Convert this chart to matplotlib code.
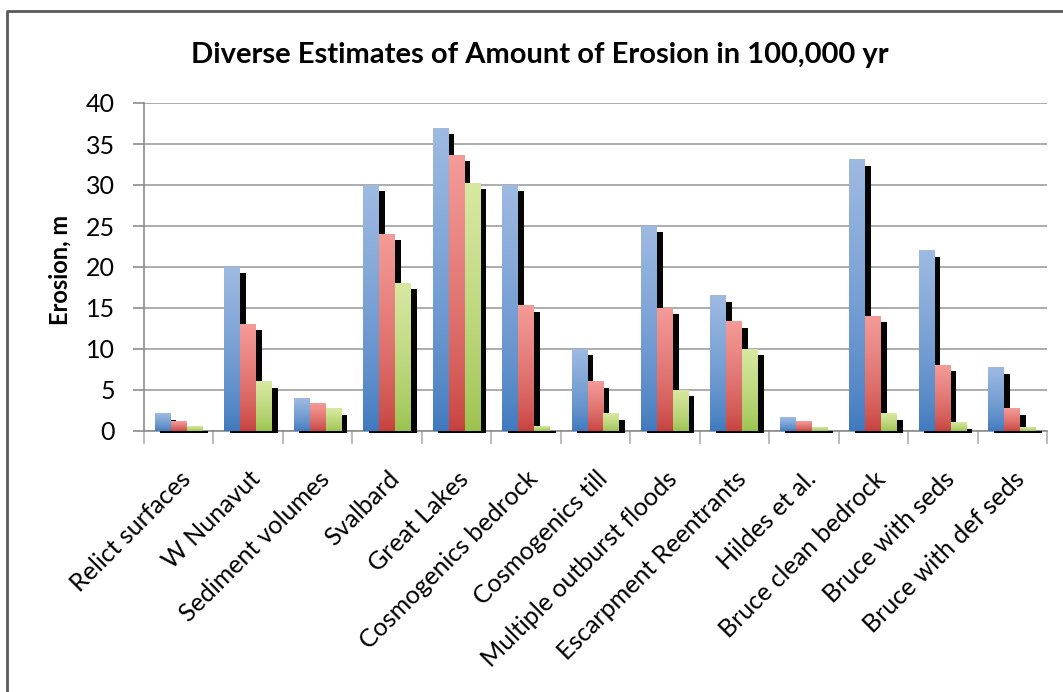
import numpy as np
import matplotlib
matplotlib.use("Agg")
import matplotlib.pyplot as plt
from matplotlib.colors import to_rgb
from matplotlib.lines import Line2D

# Data (metres of erosion in 100,000 yr)
categories = [
    "Relict surfaces", "W Nunavut", "Sediment volumes", "Svalbard",
    "Great Lakes", "Cosmogenics bedrock", "Cosmogenics till",
    "Multiple outburst floods", "Escarpment Reentrants", "Hildes et al.",
    "Bruce clean bedrock", "Bruce with seds", "Bruce with def seds",
]
series_blue = [2.1, 20.0, 4.0, 30.0, 36.9, 30.0, 10.0, 25.0, 16.5, 1.7, 33.1, 22.0, 7.7]
series_red = [1.2, 13.0, 3.3, 24.0, 33.6, 15.3, 6.0, 15.0, 13.3, 1.1, 14.0, 8.0, 2.7]
series_green = [0.5, 6.0, 2.7, 18.0, 30.2, 0.5, 2.1, 5.0, 10.0, 0.4, 2.1, 1.0, 0.4]
y_ticks = [0, 5, 10, 15, 20, 25, 30, 35, 40]

# (top colour, bottom colour) for each series gradient
palettes = [
    ("#9ebae2", "#3c77bd"),
    ("#f49b98", "#c53f3b"),
    ("#d8e8a1", "#99c14c"),
]

FONT = "Lato"
W, H = 1063, 692
fig = plt.figure(figsize=(W / 100, H / 100), dpi=100)
ax = fig.add_axes([144 / W, 1 - 431 / H, (1047 - 144) / W, (431 - 103) / H])

bar_w = 0.23
shadow_dx = 0.08
shadow_dy = 0.73
x = np.arange(len(categories))
all_series = [series_blue, series_red, series_green]

# shadows first, behind all bars
for k, vals in enumerate(all_series):
    for xi, v in zip(x, vals):
        left = xi + (k - 1) * bar_w - bar_w / 2 + shadow_dx
        top = max(v - shadow_dy, 0.05)
        ax.add_patch(plt.Rectangle((left, -0.25), bar_w, top + 0.25,
                                   facecolor="#050505", edgecolor="none",
                                   zorder=2, clip_on=False))

# gradient bars
t = np.linspace(0, 1, 256) ** 0.7
for k, vals in enumerate(all_series):
    top_c = np.array(to_rgb(palettes[k][0]))
    bot_c = np.array(to_rgb(palettes[k][1]))
    grad = (bot_c[None, :] + (top_c - bot_c)[None, :] * t[:, None])[:, None, :]
    for xi, v in zip(x, vals):
        left = xi + (k - 1) * bar_w - bar_w / 2
        ax.imshow(grad, extent=[left, left + bar_w, 0, v], origin="lower",
                  aspect="auto", interpolation="bilinear", zorder=3)

ax.set_xlim(-0.5, len(categories) - 0.5)
ax.set_ylim(0, 40)

# axes styling
for side in ["top", "right"]:
    ax.spines[side].set_visible(False)
for side in ["left", "bottom"]:
    ax.spines[side].set_color("#8c8c8c")
    ax.spines[side].set_linewidth(1.2)
ax.spines["bottom"].set_zorder(1)

ax.set_yticks(y_ticks)
ax.set_yticklabels([str(v) for v in y_ticks], fontsize=18, family=FONT)
ax.tick_params(axis="y", length=8, width=1.2, color="#8c8c8c", pad=13)
ax.yaxis.grid(True, color="#a6a6a6", linewidth=1.3, zorder=0)
ax.set_axisbelow(True)

ax.set_xticks(x)
ax.set_xticklabels(categories, rotation=45, ha="right", rotation_mode="anchor",
                   fontsize=18, family=FONT)
ax.tick_params(axis="x", length=0, pad=26)
ax.set_xticks(np.arange(-0.5, len(categories), 1.0), minor=True)
ax.tick_params(axis="x", which="minor", length=9, width=1.2, color="#b0b0b0")

fig.text(60 / W, 1 - 270 / H, "Erosion, m", rotation=90, ha="center", va="center",
         fontsize=17, fontweight="bold", family=FONT)
fig.text(540 / W, 1 - 55 / H, "Diverse Estimates of Amount of Erosion in 100,000 yr",
         ha="center", va="center", fontsize=21, fontweight="bold", family=FONT)

# chart area border (top and left edges visible in the crop)
fig.add_artist(Line2D([7 / W, 7 / W, 1.0], [0.0, 1 - 11 / H, 1 - 11 / H],
                      transform=fig.transFigure, color="#5a5a5a", linewidth=2))

fig.savefig("out.png", dpi=100)
